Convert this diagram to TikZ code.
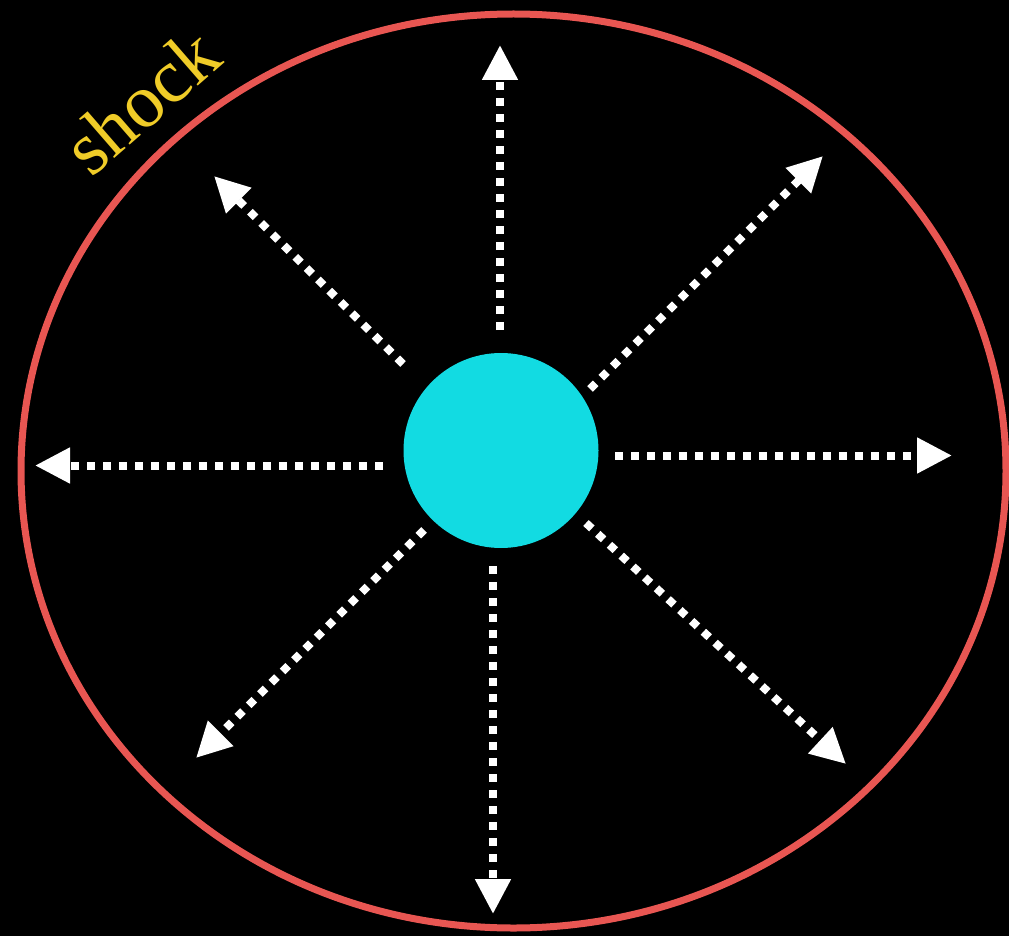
\documentclass[tikz,border=0pt]{standalone}
\usepackage{fontspec}
\setmainfont{Liberation Serif}
\usetikzlibrary{arrows.meta,shapes.geometric}
\definecolor{shockred}{RGB}{232,86,82}
\definecolor{corecyan}{RGB}{18,219,226}
\definecolor{labelyellow}{RGB}{240,204,40}
\tikzset{
  flow/.style={draw=white, line width=8pt, dash pattern=on 8pt off 8pt,
    -{Triangle[length=35pt,width=34pt,fill=white]}},
}
\begin{document}
\begin{tikzpicture}[x=1pt,y=-1pt]
\fill[black] (0,0) rectangle (1009,936);
\useasboundingbox (0,0) rectangle (1009,936);
\node[ellipse, draw=shockred, line width=7pt, minimum width=985pt, minimum height=914pt, inner sep=0pt] (shockfront) at (513.5,471) {};
\node[circle, fill=corecyan, minimum size=195pt, inner sep=0pt] (core) at (501,450.5) {};
\node[text=labelyellow, font=\fontsize{76}{76}\selectfont, rotate=41] (label) at (141,101) {shock};
% start points
\coordinate (s1) at (500,330);
\coordinate (s2) at (590,389);
\coordinate (s3) at (615,455.5);
\coordinate (s4) at (586,523);
\coordinate (s5) at (493,566);
\coordinate (s6) at (424,530);
\coordinate (s7) at (383,465.5);
\coordinate (s8) at (403,364);
% tips
\coordinate (t1) at (500,45);
\coordinate (t2) at (823,156);
\coordinate (t3) at (952,455.5);
\coordinate (t4) at (846,764);
\coordinate (t5) at (493,914);
\coordinate (t6) at (196,758);
\coordinate (t7) at (35,465.5);
\coordinate (t8) at (214,176);
\foreach \i in {1,...,8} {\draw[flow] (s\i) -- (t\i);}
\end{tikzpicture}
\end{document}
